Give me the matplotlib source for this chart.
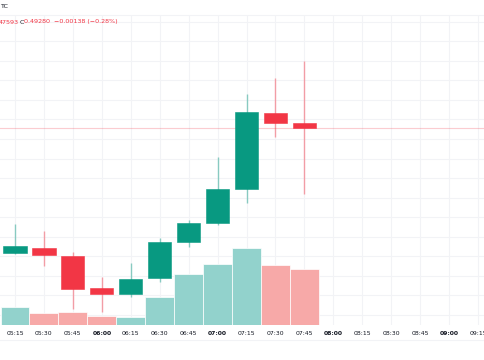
import matplotlib
matplotlib.use("Agg")
import matplotlib.pyplot as plt
from matplotlib.lines import Line2D

# --- data (15 min candles) ---
times = ["05:15", "05:30", "05:45", "06:00", "06:15", "06:30",
         "06:45", "07:00", "07:15", "07:30", "07:45"]
opens = [0.46085, 0.46213, 0.46008, 0.45180, 0.45037, 0.45446,
         0.46366, 0.46852, 0.47721, 0.49663, 0.49418]
highs = [0.46826, 0.46647, 0.46111, 0.45472, 0.45829, 0.46468,
         0.46928, 0.48539, 0.50149, 0.50558, 0.50993]
lows = [0.46060, 0.45753, 0.44654, 0.44577, 0.44960, 0.45344,
        0.46238, 0.46790, 0.47363, 0.49050, 0.47593]
closes = [0.46264, 0.46034, 0.45165, 0.45037, 0.45420, 0.46366,
          0.46852, 0.47721, 0.49689, 0.49418, 0.49280]
volumes = [180, 120, 130, 90, 80, 280, 510, 610, 770, 600, 560]

tick_labels = ["05:15", "05:30", "05:45", "06:00", "06:15", "06:30",
               "06:45", "07:00", "07:15", "07:30", "07:45", "08:00",
               "08:15", "08:30", "08:45", "09:00", "09:15"]
last_close = 0.49280

UP = "#089981"
DOWN = "#F23645"
UP_VOL = "#92d2cc"
DOWN_VOL = "#f7a9a8"
GRID = "#f2f3f6"
TEXT = "#131722"

W, H = 485, 360
fig = plt.figure(figsize=(W / 100, H / 100), dpi=100)
fig.patch.set_facecolor("white")

# main pane spans y=16..325 px
top_px, bot_px = 16, 325
ax = fig.add_axes([0, (H - bot_px) / H, 1, (bot_px - top_px) / H])
ax.set_xlim(-0.518, 16.24)
ax.set_ylim(0.44245, 0.52143)

# grid
for i in range(len(tick_labels)):
    ax.axvline(i, color=GRID, lw=0.8, zorder=0)
lvl = 0.445
while lvl < 0.522:
    ax.axhline(lvl, color=GRID, lw=0.8, zorder=0)
    lvl += 0.005

# candles
x = list(range(len(times)))
for i in x:
    up = closes[i] >= opens[i]
    col = UP if up else DOWN
    ax.vlines(i, lows[i], highs[i], color=col, alpha=0.45, lw=1, zorder=2)
    ax.bar(i, abs(closes[i] - opens[i]), bottom=min(opens[i], closes[i]),
           width=0.8, color=col, edgecolor=col, lw=0.4, zorder=3)

# last price line
ax.axhline(last_close, color=DOWN, alpha=0.25, lw=0.8, zorder=1)

ax.set_xticks(range(len(tick_labels)))
ax.set_xticklabels(tick_labels, fontsize=4.4, color=TEXT)
for lab in ax.get_xticklabels():
    if lab.get_text().endswith(":00"):
        lab.set_fontweight("bold")
ax.tick_params(axis="x", length=0, pad=4)
for s in ax.spines.values():
    s.set_visible(False)

# volume overlay
axv = ax.twinx()
axv.set_ylim(0, (bot_px - top_px) * 10)
vcols = [UP_VOL if c >= o else DOWN_VOL for o, c in zip(opens, closes)]
axv.bar(x, volumes, width=1.0, color=vcols, edgecolor="white", lw=0.5, zorder=1)
axv.yaxis.set_visible(False)
ax.yaxis.set_visible(False)
for s in axv.spines.values():
    s.set_visible(False)

# pane borders
fig.add_artist(Line2D([0, 1], [1 - 15 / H, 1 - 15 / H], color=GRID, lw=0.8))
fig.add_artist(Line2D([0, 1], [1 - 340 / H, 1 - 340 / H], color=GRID, lw=0.8))

# legend header
fig.text(0, 1 - 6 / H, "TC", fontsize=4.6, color=TEXT, va="center")
fig.text(-1 / W, 1 - 22 / H, "47593", fontsize=4.6, color=DOWN, va="center")
fig.text(20 / W, 1 - 22 / H, "C", fontsize=4.6, color=TEXT, va="center")
fig.text(24 / W, 1 - 22 / H, "0.49280  \u22120.00138 (\u22120.28%)",
         fontsize=4.6, color=DOWN, va="center")

fig.savefig("out.png", dpi=100)
